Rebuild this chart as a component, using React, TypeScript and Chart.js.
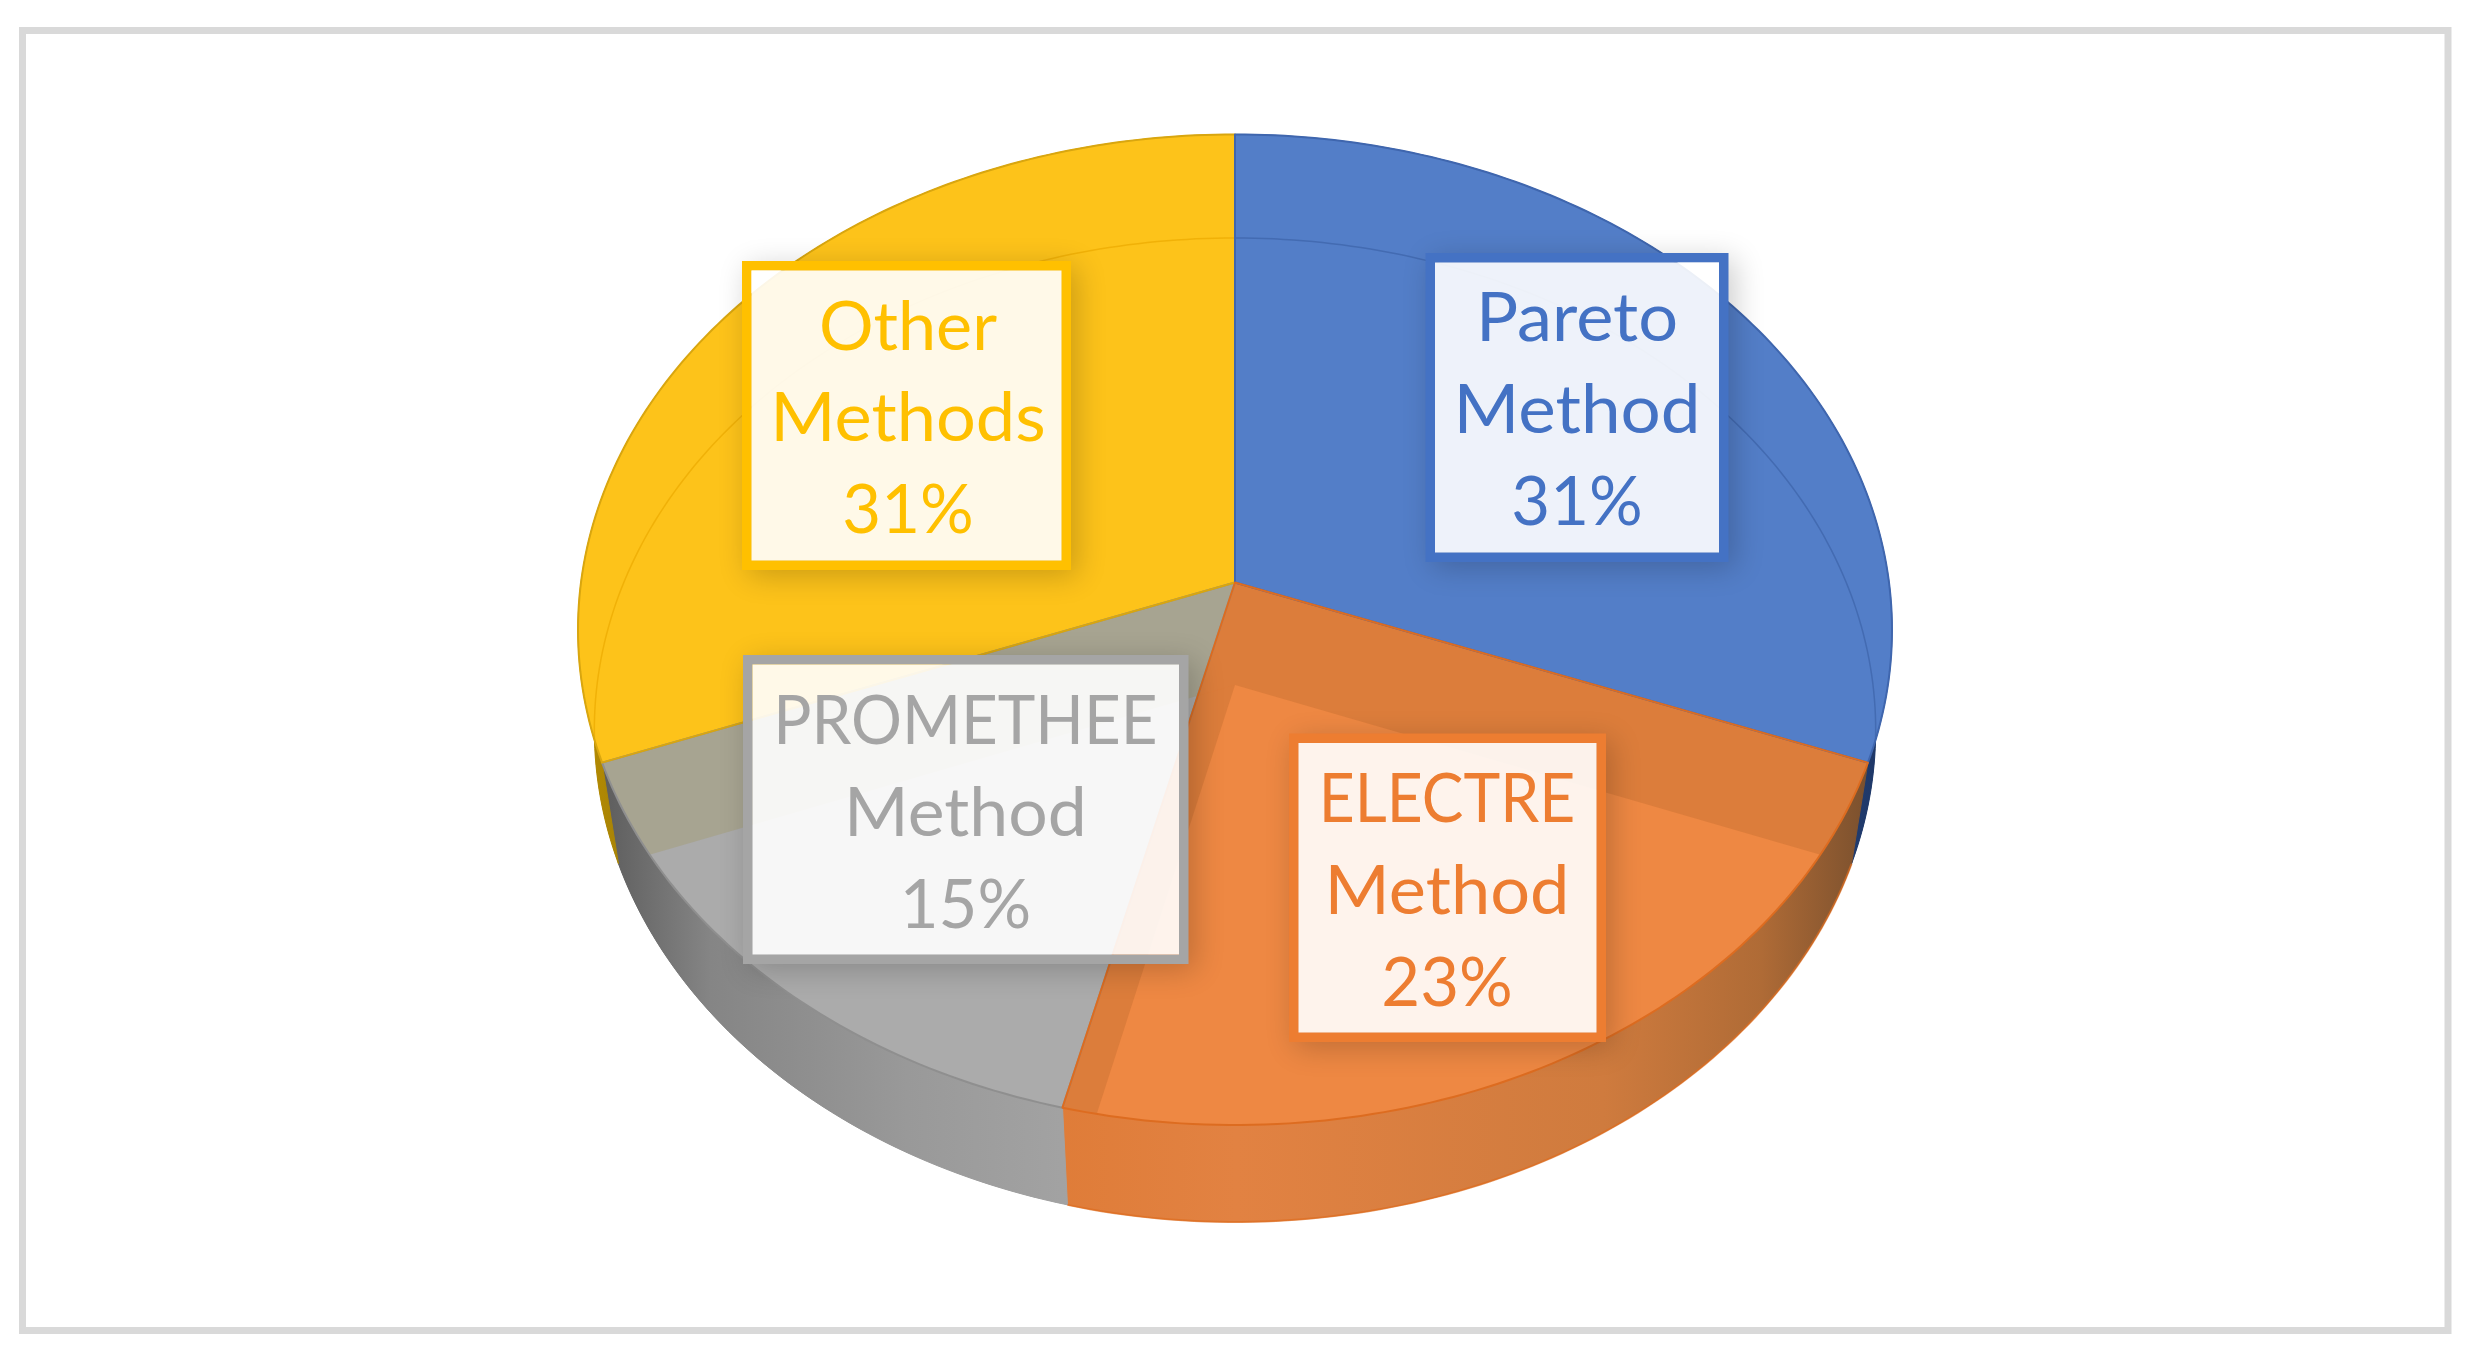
import React, { useEffect, useRef } from "react";
import { Chart, registerables } from "chart.js";

Chart.register(...registerables);

const categories = ["Pareto Method", "ELECTRE Method", "PROMETHEE Method", "Other Methods"];
const counts = [4, 3, 2, 4];

const baseColors = ["#4472C4", "#ED7D31", "#A5A5A5", "#FFC000"];
const faceColors = ["#537EC8", "#EE8843", "#ABABAB", "#FDC31A"];
const edgeColors = ["#3F66AE", "#DD6C20", "#8F8F8F", "#D9A60F"];
const rimTints = ["rgba(48,84,150,0.45)", "rgba(0,0,0,0)", "rgba(0,0,0,0)", "rgba(235,170,0,0.7)"];
const throughTints = ["rgba(0,0,0,0)", "rgba(130,70,20,0.16)", "rgba(150,130,0,0.15)", "rgba(0,0,0,0)"];
const wallStops: [number, string][][] = [
  [[0, "#2A4A86"], [0.9, "#2A4A86"], [1, "#1D3563"]],
  [[0.36, "#DF7C38"], [0.5, "#E28242"], [0.78, "#CF7B3E"], [0.9, "#AF6B36"], [1, "#6E4A2C"]],
  [[0.02, "#5E5E5E"], [0.1, "#858585"], [0.25, "#999999"], [0.38, "#A3A3A3"]],
  [[0, "#B88C00"], [0.03, "#A88406"], [1, "#A88406"]],
];

const frame = { left: 22.5, top: 30.5, right: 2448, bottom: 1330.5, width: 7 };
const topFace = { cx: 1235, cy: 582.5, a: 654, b: 490.8, k: 0.0954 };
const baseFace = { cx: 1235, cy: 685, a: 638, b: 487.9, k: 0.0914 };
const labelBoxes = [
  { x: 1425.5, y: 253, w: 303, h: 309, tx: 1577, base: 341, step: 92, fit: [1.05, 1.06, 1.0] },
  { x: 1289, y: 733.5, w: 317, h: 308.5, tx: 1447, base: 822, step: 92, fit: [0.93, 1.05, 1.0] },
  { x: 743, y: 655, w: 445.5, h: 309, tx: 965.4, base: 744, step: 92, fit: [0.95, 1.04, 1.0] },
  { x: 742, y: 261, w: 329, h: 309, tx: 908, base: 349.5, step: 91.5, fit: [1.02, 1.05, 1.0] },
];

type Face = typeof topFace;
const project = (f: Face, angle: number): [number, number] => {
  const u = Math.cos(angle);
  const v = Math.sin(angle);
  const d = 1 - f.k * v;
  return [f.cx + (f.a * u) / d, f.cy + (f.b * v) / d];
};

const traceArc = (ctx: CanvasRenderingContext2D, f: Face, a0: number, a1: number, move: boolean) => {
  const n = Math.max(8, Math.ceil(Math.abs(a1 - a0) * 60));
  for (let i = 0; i <= n; i++) {
    const [x, y] = project(f, a0 + ((a1 - a0) * i) / n);
    if (i === 0 && move) ctx.moveTo(x, y);
    else ctx.lineTo(x, y);
  }
};

const traceSlice = (ctx: CanvasRenderingContext2D, f: Face, a0: number, a1: number) => {
  ctx.beginPath();
  ctx.moveTo(f.cx, f.cy);
  traceArc(ctx, f, a0, a1, false);
  ctx.closePath();
};

const piePerspective = {
  id: "piePerspective",
  beforeDatasetDraw(chart: any) {
    const ctx: CanvasRenderingContext2D = chart.ctx;
    const arcs = chart.getDatasetMeta(0).data;
    const span = (e: any) => [e.startAngle, e.endAngle];
    const wallPaint = (i: number) => {
      const g = ctx.createLinearGradient(579, 0, 1893, 0);
      wallStops[i].forEach(([s, c]) => g.addColorStop(s, c));
      return g;
    };

    ctx.save();
    ctx.lineJoin = "round";

    // under-faces first, then the side walls on top of them
    arcs.forEach((e: any, i: number) => {
      const [a0, a1] = span(e);
      ctx.fillStyle = wallPaint(i);
      traceSlice(ctx, baseFace, a0, a1);
      ctx.fill();
    });
    arcs.forEach((e: any, i: number) => {
      const [a0, a1] = span(e);
      const g = wallPaint(i);
      ctx.fillStyle = g;
      ctx.beginPath();
      traceArc(ctx, topFace, a0, a1, true);
      traceArc(ctx, baseFace, a1, a0, false);
      ctx.closePath();
      ctx.fill();
      ctx.strokeStyle = g;
      ctx.lineWidth = 1;
      ctx.stroke();
    });
    // wall outer edge
    const [o0, o1] = span(arcs[1]);
    ctx.strokeStyle = "rgba(221,108,32,0.7)";
    ctx.lineWidth = 2;
    ctx.beginPath();
    traceArc(ctx, baseFace, o0, o1, true);
    ctx.stroke();

    // top faces
    arcs.forEach((e: any) => {
      const [a0, a1] = span(e);
      ctx.fillStyle = e.options.backgroundColor;
      traceSlice(ctx, topFace, a0, a1);
      ctx.fill();
    });

    // what shows through each translucent face
    arcs.forEach((e: any, j: number) => {
      const [a0, a1] = span(e);
      ctx.save();
      traceSlice(ctx, topFace, a0, a1);
      ctx.clip();
      arcs.forEach((b: any, i: number) => {
        if (i === j) return;
        const [b0, b1] = span(b);
        ctx.fillStyle = throughTints[j];
        traceSlice(ctx, baseFace, b0, b1);
        ctx.fill();
      });
      ctx.strokeStyle = rimTints[j];
      ctx.lineWidth = 1.5;
      ctx.beginPath();
      traceArc(ctx, baseFace, a0, a1, true);
      ctx.stroke();
      ctx.restore();
    });

    // slice edges
    [2, 3, 0, 1].forEach((i) => {
      const e = arcs[i];
      const [a0, a1] = span(e);
      ctx.strokeStyle = e.options.borderColor;
      ctx.lineWidth = e.options.borderWidth;
      traceSlice(ctx, topFace, a0, a1);
      ctx.stroke();
    });
    ctx.restore();
    return false;
  },
  afterDatasetsDraw(chart: any) {
    const ctx: CanvasRenderingContext2D = chart.ctx;
    const total = counts.reduce((s, v) => s + v, 0);
    const border = 9.5;
    labelBoxes.forEach((b, i) => {
      const ix = b.x + border;
      const iy = b.y + border;
      const iw = b.w - border * 2;
      const ih = b.h - border * 2;
      ctx.save();
      ctx.beginPath();
      ctx.rect(0, 0, chart.width, chart.height);
      ctx.rect(ix, iy, iw, ih);
      ctx.clip("evenodd");
      ctx.shadowColor = "rgba(0,0,0,0.2)";
      ctx.shadowBlur = 28;
      ctx.shadowOffsetX = 6;
      ctx.shadowOffsetY = 6;
      ctx.fillStyle = baseColors[i];
      ctx.fillRect(b.x, b.y, b.w, b.h);
      ctx.restore();

      ctx.fillStyle = "rgba(255,255,255,0.9)";
      ctx.fillRect(ix, iy, iw, ih);

      ctx.fillStyle = baseColors[i];
      ctx.font = '67px Lato, "Open Sans", sans-serif';
      ctx.textAlign = "center";
      ctx.textBaseline = "alphabetic";
      const lines = [...categories[i].split(" "), `${Math.round((counts[i] / total) * 100)}%`];
      lines.forEach((t, n) => {
        ctx.save();
        ctx.translate(b.tx, b.base + n * b.step);
        ctx.scale(b.fit[n], 1);
        ctx.fillText(t, 0, 0);
        ctx.restore();
      });
    });
  },
  beforeDraw(chart: any) {
    const ctx: CanvasRenderingContext2D = chart.ctx;
    ctx.save();
    ctx.fillStyle = "#FFFFFF";
    ctx.fillRect(0, 0, chart.width, chart.height);
    ctx.strokeStyle = "#D9D9D9";
    ctx.lineWidth = frame.width;
    ctx.strokeRect(frame.left, frame.top, frame.right - frame.left, frame.bottom - frame.top);
    ctx.restore();
  },
};

export default function App() {
  const ref = useRef<HTMLCanvasElement>(null);
  useEffect(() => {
    const chart = new Chart(ref.current as HTMLCanvasElement, {
      type: "pie",
      data: {
        labels: categories,
        datasets: [
          {
            data: counts,
            backgroundColor: faceColors,
            borderColor: edgeColors,
            borderWidth: 2,
          },
        ],
      },
      options: {
        responsive: false,
        animation: false,
        rotation: 0,
        plugins: { legend: { display: false }, tooltip: { enabled: false } },
      },
      plugins: [piePerspective],
    } as any);
    return () => chart.destroy();
  }, []);
  return (
    <div style={{ position: "absolute", left: 0, top: 0, width: 2473, height: 1356 }}>
      <canvas ref={ref} width={2473} height={1356} style={{ display: "block" }} />
    </div>
  );
}
